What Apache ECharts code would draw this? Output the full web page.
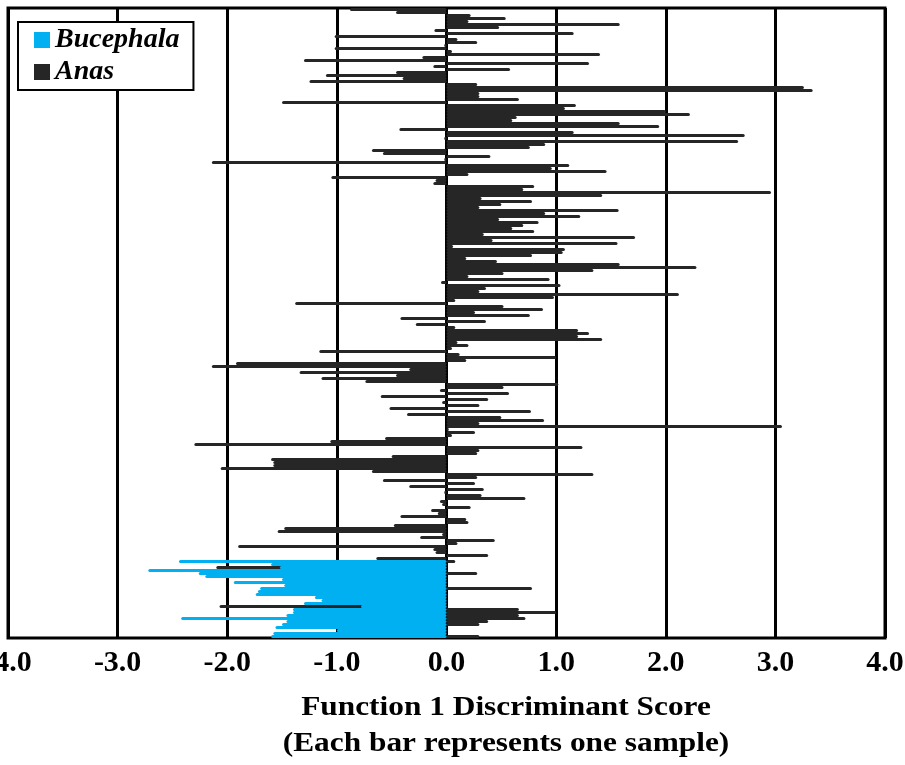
<!DOCTYPE html>
<html>
<head>
<meta charset="utf-8">
<script src="https://cdn.jsdelivr.net/npm/echarts@6/dist/echarts.min.js"></script>
<style>
  html, body { margin: 0; padding: 0; background: #fff; }
  #chart { width: 905px; height: 765px; }
</style>
</head>
<body>
<div id="chart"></div>
<script>
// Function 1 discriminant scores, one bar per sample, top to bottom
const anasValues = [
  -0.88, -0.46, 0.22, 0.54, 0.2, 1.58, 0.48, -0.11, 1.16, -1.02,
  0.1, 0.28, -0.02, -1.02, 0.05, 1.4, -0.22, -1.3, 1.3, -0.12,
  0.58, -0.46, -1.1, -0.4, -1.25, 0.28, 3.26, 3.34, 0.3, 0.3,
  0.66, -1.5, 1.18, 1.08, 2.0, 2.22, 0.64, 0.6, 1.58, 1.94,
  -0.43, 1.16, 2.72, -0.02, 2.66, 0.9, 0.76, -0.68, -0.58, 0.4,
  -0.02, -2.14, 1.12, 0.96, 1.46, 0.2, -1.05, -0.1, -0.12, 0.8,
  0.7, 2.96, 1.42, 0.32, 0.78, 0.5, 0.3, 1.57, 0.9, 1.22,
  0.48, 0.84, 0.7, 0.6, 0.8, 0.34, 1.72, 0.42, 1.56, 0.06,
  1.08, 1.06, 0.78, 0.18, 0.46, 1.58, 2.28, 1.34, 0.52, 0.2,
  0.94, -0.05, 1.04, 0.36, 0.3, 2.12, 0.98, 0.08, -1.38, 0.52,
  0.88, 0.26, 0.76, -0.42, 0.36, -0.28, 0.08, 1.2, 1.3, 1.2,
  1.42, 0.1, 0.2, 0.05, -1.16, 0.12, 1.0, 0.18, -1.92, -2.14,
  -0.34, -1.34, -0.46, -1.14, -0.74, 1.02, 0.52, -0.06, 0.57, -0.6,
  0.38, -0.04, 0.3, -0.52, 0.77, -0.36, 0.5, 0.89, 0.3, 3.06,
  0.02, 0.26, 0.05, -0.56, -1.06, -2.3, 1.24, 0.3, 0.28, -0.5,
  -1.6, -1.58, -1.58, -2.06, -0.68, 1.34, 0.28, -0.58, 0.26, -0.34,
  0.34, -0.02, 0.32, 0.72, -0.06, -0.04, 0.22, -0.14, -0.08, -0.42,
  0.18, 0.2, -0.48, -1.48, -1.54, -0.04, -0.24, 0.44, 0.1, -1.9,
  -0.12, -0.1, 0.38, -0.64, 0.08, null, -2.1, null, 0.28, null,
  null, null, null, 0.78, null, null, null, null, null, -2.07,
  0.66, 1.0, 0.66, 0.72, 0.38, 0.3, null, null, null, 0.3
];
// Bucephala samples occupy the last rows of the chart
const bucephalaStartRow = 184;
const bucephalaValues = [
  -2.44, -1.6, -1.52, -2.72, -2.26, -2.2, -1.5, -1.94, -1.48, -1.7,
  -1.72, -1.74, -1.2, -1.14, -1.3, -0.78, -1.4, -1.4, -1.46, -2.42,
  -1.46, -1.5, -1.56, -1.0, -1.58, -1.6
];
const xTicks = [-4, -3, -2, -1, 0, 1, 2, 3, 4];
const seriesNames = ['Bucephala', 'Anas'];
const titleLines = ['Function 1 Discriminant Score', '(Each bar represents one sample)'];

const categories = anasValues.map((_, i) => 'S' + (i + 1));
const bucData = categories.map((_, i) => {
  const k = i - bucephalaStartRow;
  return (k >= 0 && k < bucephalaValues.length) ? bucephalaValues[k] : null;
});

const FONT = '"Liberation Serif", "Times New Roman", serif';
const chart = echarts.init(document.getElementById('chart'), null, { renderer: 'canvas' });
chart.setOption({
  animation: false,
  backgroundColor: '#fff',
  grid: {
    left: 8, right: 20, top: 8, bottom: 127,
    containLabel: false,
    outerBoundsMode: 'none',
    show: true, borderColor: '#000', borderWidth: 3, backgroundColor: 'transparent'
  },
  legend: {
    data: seriesNames,
    orient: 'vertical',
    left: 18, top: 22,
    itemWidth: 16, itemHeight: 16, itemGap: 4,
    icon: 'rect',
    padding: [4, 14, 4, 16],
    backgroundColor: '#fff',
    borderColor: '#000', borderWidth: 2,
    textStyle: { fontFamily: FONT, fontSize: 28, fontWeight: 'bold', fontStyle: 'italic', color: '#000' },
    z: 20
  },
  xAxis: {
    type: 'value',
    min: xTicks[0], max: xTicks[xTicks.length - 1], interval: 1,
    axisLine: { show: false },
    axisTick: { show: false },
    splitLine: { show: true, lineStyle: { color: '#000', width: 3 } },
    axisLabel: {
      margin: 10,
      formatter: v => v.toFixed(1),
      fontFamily: FONT, fontSize: 30, fontWeight: 'bold', color: '#000'
    }
  },
  yAxis: {
    type: 'category',
    data: categories,
    inverse: true,
    axisLine: { show: false },
    axisTick: { show: false },
    axisLabel: { show: false },
    splitLine: { show: false }
  },
  series: [
    {
      name: 'Anas', type: 'bar', data: anasValues,
      barCategoryGap: '0%', barGap: '-100%', barWidth: 3.2,
      itemStyle: { color: '#262626', borderRadius: 1.5 },
      z: 2
    },
    {
      name: 'Bucephala', type: 'bar', data: bucData,
      barCategoryGap: '0%', barGap: '-100%', barWidth: 3.2,
      itemStyle: { color: '#00B0F0', borderRadius: 1.5 },
      z: 3
    }
  ],
  graphic: [
    {
      type: 'text', x: 506, y: 708, scaleX: 1.12,
      style: { text: titleLines[0], font: 'bold 28px ' + FONT, fill: '#000', align: 'center', verticalAlign: 'middle' }
    },
    {
      type: 'text', x: 506, y: 744, scaleX: 1.12,
      style: { text: titleLines[1], font: 'bold 28px ' + FONT, fill: '#000', align: 'center', verticalAlign: 'middle' }
    }
  ]
});
</script>
</body>
</html>
